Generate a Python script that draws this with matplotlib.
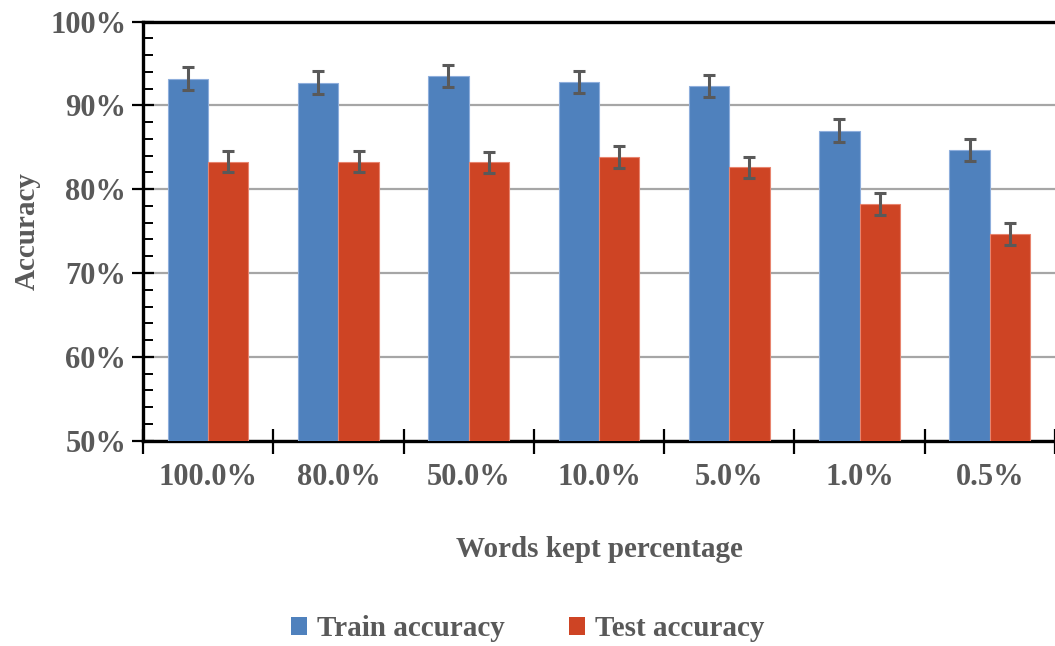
import matplotlib.pyplot as plt
import numpy as np
from matplotlib.patches import Patch
from matplotlib.ticker import FixedLocator, MultipleLocator, PercentFormatter

categories = ["100.0%", "80.0%", "50.0%", "10.0%", "5.0%", "1.0%", "0.5%"]
train_acc = [93.2, 92.7, 93.5, 92.8, 92.3, 87.0, 84.7]
test_acc = [83.3, 83.3, 83.2, 83.8, 82.6, 78.2, 74.7]
train_err = [1.35, 1.35, 1.35, 1.35, 1.35, 1.35, 1.35]
test_err = [1.3, 1.3, 1.3, 1.3, 1.3, 1.3, 1.3]

BLUE = "#4F81BD"
RED = "#CE4424"
GREY = "#595959"

plt.rcParams["font.family"] = ["Liberation Serif", "DejaVu Serif"]
plt.rcParams["font.weight"] = "bold"

fig = plt.figure(figsize=(10.55, 6.46), dpi=100)
ax = fig.add_axes([0.1355, 0.318, 0.8645, 0.6485])

x = np.arange(len(categories))
w = 0.31
ekw = dict(ecolor=GREY, elinewidth=2.2, capsize=4.5, capthick=2.2)
ax.bar(x - w / 2, train_acc, w, color=BLUE, edgecolor="#8EAEDC", linewidth=0.8,
       yerr=train_err, error_kw=ekw, zorder=3)
ax.bar(x + w / 2, test_acc, w, color=RED, edgecolor="#E8846E", linewidth=0.8,
       yerr=test_err, error_kw=ekw, zorder=3)

ax.set_xlim(-0.5, len(categories) - 0.5)
ax.set_ylim(50, 100)

ax.yaxis.set_major_locator(MultipleLocator(10))
ax.yaxis.set_minor_locator(MultipleLocator(2))
ax.yaxis.set_major_formatter(PercentFormatter(decimals=0))
ax.yaxis.grid(True, which="major", color="#A6A6A6", linewidth=1.6, zorder=0)
ax.tick_params(axis="y", which="major", direction="inout", length=16, width=1.6,
               labelsize=22, labelcolor=GREY, pad=4)
ax.tick_params(axis="y", which="minor", direction="in", length=7, width=1.4)

# x: boundary ticks, labels centred under groups
ax.xaxis.set_major_locator(FixedLocator(np.arange(len(categories) + 1) - 0.5))
ax.xaxis.set_minor_locator(FixedLocator(x))
ax.set_xticklabels([], minor=False)
ax.set_xticklabels(categories, minor=True)
ax.tick_params(axis="x", which="major", direction="inout", length=18, width=1.6)
ax.tick_params(axis="x", which="minor", length=0, labelsize=22, labelcolor=GREY, pad=16)

for side in ["left", "bottom", "top"]:
    ax.spines[side].set_linewidth(2.4)
    ax.spines[side].set_color("black")
ax.spines["right"].set_visible(False)

ax.set_ylabel("Accuracy", fontsize=21, color=GREY, fontweight="bold", labelpad=7)
ax.set_xlabel("Words kept percentage", fontsize=21, color=GREY, fontweight="bold", labelpad=32)

handles = [Patch(facecolor=BLUE, label="Train accuracy"),
           Patch(facecolor=RED, label="Test accuracy")]
fig.legend(handles=handles, loc="center", bbox_to_anchor=(0.5, 0.027), ncol=2,
           frameon=False, fontsize=21, labelcolor=GREY, handlelength=0.55,
           handleheight=0.55, handletextpad=0.35, columnspacing=2.2)

fig.savefig("out.png", dpi=100)
